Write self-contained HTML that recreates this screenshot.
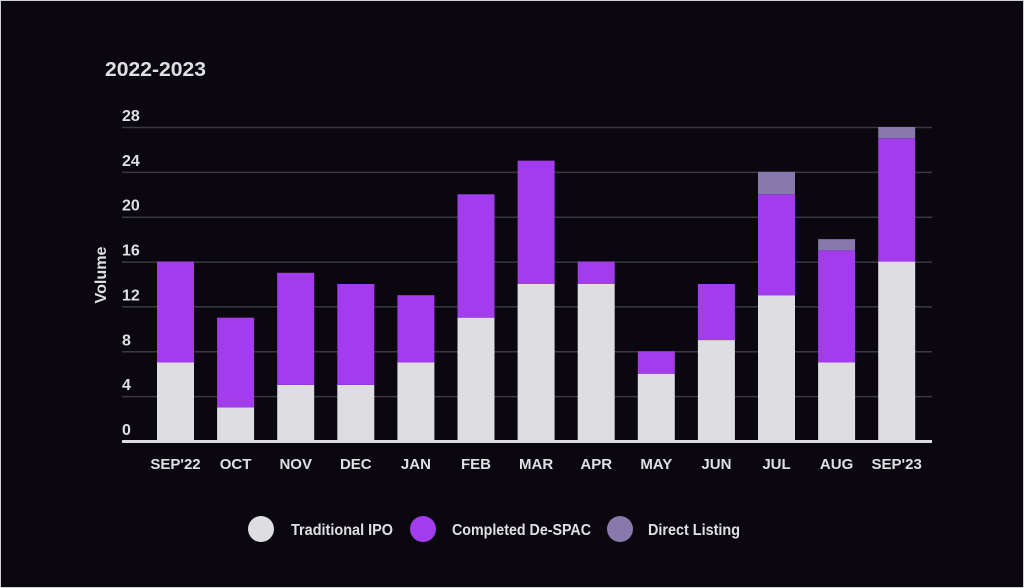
<!DOCTYPE html>
<html><head><meta charset="utf-8"><style>
html,body{margin:0;padding:0;background:#0a080e;}
svg{display:block;font-family:"Liberation Sans",sans-serif;font-weight:bold;}
</style></head><body>
<svg id="chart" width="1024" height="588" viewBox="0 0 1024 588" xmlns="http://www.w3.org/2000/svg">
<rect x="0.5" y="0.5" width="1023" height="587" fill="#0a080e" stroke="#cfcfd4" stroke-width="1"/>
<text x="105" y="76" fill="#e0dfe4" font-size="20" textLength="101" lengthAdjust="spacingAndGlyphs">2022-2023</text>
<text transform="translate(106,275) rotate(-90)" text-anchor="middle" fill="#e0dfe4" font-size="16" textLength="57" lengthAdjust="spacingAndGlyphs">Volume</text>
<g id="grid"></g><g id="bars"></g><g id="xlabels"></g>
<line x1="122" y1="441.5" x2="932" y2="441.5" stroke="#dcdce0" stroke-width="3"/>
<g>
<g><circle cx="261" cy="529" r="13" fill="#dedde2"/><text x="291" y="535" fill="#e0dfe4" font-size="16" textLength="102" lengthAdjust="spacingAndGlyphs">Traditional IPO</text></g>
<g><circle cx="423" cy="529" r="13" fill="#a23ced"/><text x="452" y="535" fill="#e0dfe4" font-size="16" textLength="139" lengthAdjust="spacingAndGlyphs">Completed De-SPAC</text></g>
<g><circle cx="620" cy="529" r="13" fill="#8779ab"/><text x="648" y="535" fill="#e0dfe4" font-size="16" textLength="92" lengthAdjust="spacingAndGlyphs">Direct Listing</text></g>
</g>
</svg>
<script>
const categories=["SEP'22","OCT","NOV","DEC","JAN","FEB","MAR","APR","MAY","JUN","JUL","AUG","SEP'23"];
const ipo=[7,3,5,5,7,11,14,14,6,9,13,7,16];
const despac=[9,8,10,9,6,11,11,2,2,5,9,10,11];
const direct=[0,0,0,0,0,0,0,0,0,0,2,1,1];
const yTicks=[0,4,8,12,16,20,24,28];
const ns="http://www.w3.org/2000/svg";
const y0=441, yTop=127, yMax=28;
function y(v){return y0-(y0-yTop)*v/yMax;}
const step=60.1, x0=157, bw=37;
function x(i){return x0+i*step;}
function mk(tag,attrs,parent){const e=document.createElementNS(ns,tag);for(const k in attrs)e.setAttribute(k,attrs[k]);parent.appendChild(e);return e;}
const grid=document.getElementById('grid');
yTicks.forEach(t=>{
  if(t>0){const l=mk('line',{x1:122,x2:932,y1:y(t)+0.5,y2:y(t)+0.5,stroke:'#3a3940','stroke-width':1.5},grid);
  
  }
  const tx=mk('text',{x:122,y:y(t)-6,fill:'#e0dfe4','font-size':16},grid);
  
  
  tx.textContent=t;
});
const bars=document.getElementById('bars'), xl=document.getElementById('xlabels');
const series=[[ipo,'#dedde2','ipo'],[despac,'#a23ced','despac'],[direct,'#8779ab','direct']];
categories.forEach((c,i)=>{
  let base=0;
  series.forEach(s=>{
    const v=s[0][i]; if(v<=0)return;
    const r=mk('rect',{x:x(i),width:bw,y:y(base+v),height:y(base)-y(base+v),fill:s[1]},bars);
    
    
    base+=v;
  });
  const t=mk('text',{x:x(i)+bw/2,y:469,'text-anchor':'middle',fill:'#e0dfe4','font-size':15},xl);
  
  
  t.textContent=c;
});
</script>
</body></html>
